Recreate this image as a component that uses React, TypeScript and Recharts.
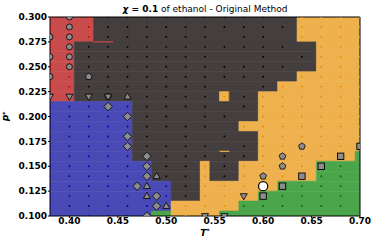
import React from 'react';
import { ScatterChart, Scatter, XAxis, YAxis, ReferenceArea } from 'recharts';

const T_MIN = 0.38;
const T_MAX = 0.7;
const P_MIN = 0.1;
const P_MAX = 0.3;

const xTicks = [0.4, 0.45, 0.5, 0.55, 0.6, 0.65, 0.7];
const yTicks = [0.1, 0.125, 0.15, 0.175, 0.2, 0.225, 0.25, 0.275, 0.3];

// phase of each 0.01 x 0.01 cell, as runs [phase, first T*, last T*] for each P* row
// R = two-phase red, D = dark, B = blue, O = orange, G = green
type Run = [string, number, number];
const phaseRows: { p: number; runs: Run[] }[] = [
  { p: 0.3, runs: [['R', 0.38, 0.42], ['D', 0.43, 0.63], ['O', 0.64, 0.7]] },
  { p: 0.29, runs: [['R', 0.38, 0.42], ['D', 0.43, 0.63], ['O', 0.64, 0.7]] },
  { p: 0.28, runs: [['R', 0.38, 0.42], ['D', 0.43, 0.63], ['O', 0.64, 0.7]] },
  { p: 0.27, runs: [['R', 0.38, 0.4], ['D', 0.41, 0.65], ['O', 0.66, 0.7]] },
  { p: 0.26, runs: [['R', 0.38, 0.4], ['D', 0.41, 0.65], ['O', 0.66, 0.7]] },
  { p: 0.25, runs: [['R', 0.38, 0.4], ['D', 0.41, 0.65], ['O', 0.66, 0.7]] },
  { p: 0.24, runs: [['R', 0.38, 0.4], ['D', 0.41, 0.63], ['O', 0.64, 0.7]] },
  { p: 0.23, runs: [['R', 0.38, 0.4], ['D', 0.41, 0.61], ['O', 0.62, 0.7]] },
  { p: 0.22, runs: [['R', 0.38, 0.4], ['D', 0.41, 0.55], ['O', 0.56, 0.56], ['D', 0.57, 0.59], ['O', 0.6, 0.7]] },
  { p: 0.21, runs: [['B', 0.38, 0.46], ['D', 0.47, 0.59], ['O', 0.6, 0.7]] },
  { p: 0.2, runs: [['B', 0.38, 0.46], ['D', 0.47, 0.59], ['O', 0.6, 0.7]] },
  { p: 0.19, runs: [['B', 0.38, 0.46], ['D', 0.47, 0.57], ['O', 0.58, 0.7]] },
  { p: 0.18, runs: [['B', 0.38, 0.46], ['D', 0.47, 0.59], ['O', 0.6, 0.7]] },
  { p: 0.17, runs: [['B', 0.38, 0.46], ['D', 0.47, 0.59], ['O', 0.6, 0.7]] },
  { p: 0.16, runs: [['B', 0.38, 0.46], ['D', 0.47, 0.59], ['O', 0.6, 0.69], ['G', 0.7, 0.7]] },
  { p: 0.15, runs: [['B', 0.38, 0.48], ['D', 0.49, 0.53], ['O', 0.54, 0.54], ['D', 0.55, 0.57], ['O', 0.58, 0.65], ['G', 0.66, 0.7]] },
  { p: 0.14, runs: [['B', 0.38, 0.48], ['D', 0.49, 0.53], ['O', 0.54, 0.54], ['D', 0.55, 0.57], ['O', 0.58, 0.65], ['G', 0.66, 0.7]] },
  { p: 0.13, runs: [['B', 0.38, 0.5], ['D', 0.51, 0.53], ['O', 0.54, 0.61], ['G', 0.62, 0.7]] },
  { p: 0.12, runs: [['B', 0.38, 0.5], ['D', 0.51, 0.53], ['O', 0.54, 0.59], ['G', 0.6, 0.7]] },
  { p: 0.11, runs: [['B', 0.38, 0.5], ['O', 0.51, 0.57], ['G', 0.58, 0.7]] },
  { p: 0.1, runs: [['B', 0.38, 0.48], ['G', 0.49, 0.5], ['O', 0.51, 0.55], ['G', 0.56, 0.7]] },
];

// thin slivers left by the contouring: [phase, T from, T to, P]
const seams: [string, number, number, number][] = [
  ['R', 0.425, 0.445, 0.275],
  ['O', 0.555, 0.565, 0.165],
];

// simulated state points
const dotT = [0.38, 0.4, 0.42, 0.44, 0.46, 0.48, 0.5, 0.52, 0.54, 0.56, 0.58, 0.6, 0.62, 0.64, 0.66, 0.68, 0.7];
const dotP = [0.3, 0.29, 0.28, 0.27, 0.26, 0.25, 0.24, 0.23, 0.22, 0.21, 0.2, 0.19, 0.18, 0.17, 0.16, 0.15, 0.14, 0.13, 0.12, 0.11, 0.1];
const missingDots: [number, number][] = [
  [0.56, 0.28], [0.56, 0.26], [0.58, 0.26], [0.56, 0.23], [0.58, 0.23], [0.56, 0.21],
  [0.52, 0.2], [0.58, 0.2], [0.56, 0.19], [0.5, 0.18], [0.54, 0.18], [0.58, 0.18],
  [0.56, 0.17], [0.62, 0.28], [0.62, 0.26], [0.64, 0.27], [0.64, 0.25], [0.62, 0.24],
];

// marked state points, [T*, P*]
const circlePts: [number, number][] = [
  [0.4, 0.3], [0.4, 0.29], [0.4, 0.28], [0.4, 0.27], [0.4, 0.26], [0.4, 0.25],
  [0.38, 0.28], [0.38, 0.26], [0.38, 0.24],
];
const triDownPts: [number, number][] = [
  [0.38, 0.22], [0.4, 0.22], [0.42, 0.22], [0.44, 0.22], [0.54, 0.1], [0.56, 0.1], [0.58, 0.12],
];
const triUpPts: [number, number][] = [[0.46, 0.22], [0.49, 0.14], [0.48, 0.13], [0.48, 0.12], [0.5, 0.11]];
const diamondPts: [number, number][] = [
  [0.44, 0.21], [0.46, 0.2], [0.46, 0.18], [0.46, 0.17], [0.48, 0.16], [0.48, 0.15],
  [0.48, 0.14], [0.47, 0.13], [0.49, 0.12], [0.49, 0.11], [0.48, 0.1],
];
const pentagonPts: [number, number][] = [[0.42, 0.24], [0.44, 0.22], [0.6, 0.14], [0.62, 0.15], [0.62, 0.16], [0.64, 0.17]];
const squarePts: [number, number][] = [[0.6, 0.12], [0.62, 0.13], [0.64, 0.14], [0.66, 0.15], [0.68, 0.16], [0.7, 0.17]];
const criticalPts: [number, number][] = [[0.6, 0.13]];

const PHASE_FILL: Record<string, string> = {
  R: '#c94c4c',
  D: '#443e3e',
  B: '#4a4ab6',
  O: '#eeb14d',
  G: '#4ba54b',
};
const PHASE_DOT: Record<string, string> = {
  R: '#d80000',
  D: '#000000',
  B: '#0000b0',
  O: '#e88e00',
  G: '#006a00',
};
const GRAY = '#8c8c8c';
const FONT = '"DejaVu Sans", sans-serif';

const near = (a: number, b: number) => Math.abs(a - b) < 1e-6;
const clampT = (v: number) => Math.min(T_MAX, Math.max(T_MIN, v));
const clampP = (v: number) => Math.min(P_MAX, Math.max(P_MIN, v));
const toPts = (list: [number, number][]) => list.map(([x, y]) => ({ x, y }));

const allMarked = [...circlePts, ...triDownPts, ...triUpPts, ...diamondPts, ...pentagonPts, ...squarePts, ...criticalPts];

function phaseAt(t: number, p: number) {
  const row = phaseRows.find((r) => near(r.p, p));
  const run = row?.runs.find(([, a, b]) => t >= a - 1e-6 && t <= b + 1e-6);
  return run ? run[0] : 'D';
}

const dots = dotP.flatMap((p) =>
  dotT
    .filter((t) => !allMarked.some(([x, y]) => near(x, t) && near(y, p)))
    .filter((t) => !missingDots.some(([x, y]) => near(x, t) && near(y, p)))
    .map((t) => ({ x: t, y: p, phase: phaseAt(t, p) }))
);

const dotShape = (props: any) => (
  <circle cx={props.cx} cy={props.cy} r={0.95} fill={PHASE_DOT[props.payload.phase]} />
);
const circleShape = (props: any) => (
  <circle cx={props.cx} cy={props.cy} r={3} fill={GRAY} stroke="#000" strokeWidth={0.8} />
);
const criticalShape = (props: any) => (
  <circle cx={props.cx} cy={props.cy} r={4.6} fill="#fff" stroke="#000" strokeWidth={1.2} />
);
const poly = (pts: number[][], cx: number, cy: number) =>
  pts.map(([dx, dy]) => `${cx + dx},${cy + dy}`).join(' ');
const triUpShape = (props: any) => (
  <polygon points={poly([[0, -3.8], [3.5, 2.4], [-3.5, 2.4]], props.cx, props.cy)} fill={GRAY} stroke="#000" strokeWidth={0.8} />
);
const triDownShape = (props: any) => (
  <polygon points={poly([[0, 3.8], [3.5, -2.4], [-3.5, -2.4]], props.cx, props.cy)} fill={GRAY} stroke="#000" strokeWidth={0.8} />
);
const diamondShape = (props: any) => (
  <polygon points={poly([[0, -4.2], [4.2, 0], [0, 4.2], [-4.2, 0]], props.cx, props.cy)} fill={GRAY} stroke="#000" strokeWidth={0.8} />
);
const pentagonShape = (props: any) => {
  const pts = [0, 1, 2, 3, 4].map((k) => {
    const a = -Math.PI / 2 + (k * 2 * Math.PI) / 5;
    return [3.5 * Math.cos(a), 3.5 * Math.sin(a)];
  });
  return <polygon points={poly(pts, props.cx, props.cy)} fill={GRAY} stroke="#000" strokeWidth={0.8} />;
};
const squareShape = (props: any) => (
  <rect x={props.cx - 3.2} y={props.cy - 3.2} width={6.4} height={6.4} fill={GRAY} stroke="#000" strokeWidth={0.9} />
);

const tickStyle = { fontSize: 9, fontWeight: 'bold', fill: '#000', fontFamily: FONT };

export default function App() {
  return (
    <div style={{ position: 'absolute', left: 0, top: 0, width: 374, height: 249, fontFamily: FONT }}>
      <div
        style={{
          position: 'absolute',
          left: 50,
          width: 310,
          top: 5,
          textAlign: 'center',
          fontSize: 9,
          lineHeight: 1,
          whiteSpace: 'nowrap',
        }}
      >
        <b>
          <i>χ</i> = 0.1
        </b>{' '}
        of ethanol - Original Method
      </div>
      <ScatterChart width={374} height={249} margin={{ top: 17, right: 14, bottom: 13, left: 8 }}>
        <XAxis
          type="number"
          dataKey="x"
          domain={[T_MIN, T_MAX]}
          ticks={xTicks}
          allowDataOverflow
          tickFormatter={(v: number) => v.toFixed(2)}
          tick={tickStyle}
          tickSize={2}
          tickMargin={0}
          height={20}
          axisLine={false}
          tickLine={{ stroke: '#000' }}
        />
        <YAxis
          type="number"
          dataKey="y"
          domain={[P_MIN, P_MAX]}
          ticks={yTicks}
          allowDataOverflow
          tickFormatter={(v: number) => v.toFixed(3)}
          tick={tickStyle}
          tickSize={2}
          tickMargin={1}
          width={42}
          axisLine={false}
          tickLine={{ stroke: '#000' }}
        />
        {phaseRows.flatMap((row) =>
          row.runs.map(([ph, a, b], i) => (
            <ReferenceArea
              key={`${row.p}-${i}`}
              x1={clampT(a - 0.005)}
              x2={clampT(b + 0.005)}
              y1={clampP(row.p - 0.005)}
              y2={clampP(row.p + 0.005)}
              fill={PHASE_FILL[ph]}
              fillOpacity={1}
              stroke={PHASE_FILL[ph]}
              strokeWidth={0.6}
              ifOverflow="hidden"
            />
          ))
        )}
        {seams.map(([ph, a, b, p], i) => (
          <ReferenceArea
            key={`seam-${i}`}
            x1={a}
            x2={b}
            y1={p - 0.0006}
            y2={p + 0.0006}
            fill={PHASE_FILL[ph]}
            fillOpacity={1}
            stroke="none"
            ifOverflow="hidden"
          />
        ))}
        <Scatter data={dots} shape={dotShape} isAnimationActive={false} />
        <Scatter data={toPts(circlePts)} shape={circleShape} isAnimationActive={false} />
        <Scatter data={toPts(pentagonPts)} shape={pentagonShape} isAnimationActive={false} />
        <Scatter data={toPts(triDownPts)} shape={triDownShape} isAnimationActive={false} />
        <Scatter data={toPts(triUpPts)} shape={triUpShape} isAnimationActive={false} />
        <Scatter data={toPts(diamondPts)} shape={diamondShape} isAnimationActive={false} />
        <Scatter data={toPts(squarePts)} shape={squareShape} isAnimationActive={false} />
        <Scatter data={toPts(criticalPts)} shape={criticalShape} isAnimationActive={false} />
        <ReferenceArea
          x1={T_MIN}
          x2={T_MAX}
          y1={P_MIN}
          y2={P_MAX}
          fill="none"
          fillOpacity={0}
          stroke="#000"
          strokeWidth={1}
        />
      </ScatterChart>
      <div
        style={{
          position: 'absolute',
          left: 50,
          width: 310,
          top: 229,
          textAlign: 'center',
          fontSize: 9,
          fontWeight: 'bold',
          fontStyle: 'italic',
          lineHeight: 1,
        }}
      >
        T<span style={{ fontSize: 6, position: 'relative', top: -3 }}>*</span>
      </div>
      <div
        style={{
          position: 'absolute',
          left: -3,
          top: 112,
          width: 20,
          textAlign: 'center',
          transform: 'rotate(-90deg)',
          fontSize: 9,
          fontWeight: 'bold',
          fontStyle: 'italic',
          lineHeight: 1,
        }}
      >
        P<span style={{ fontSize: 6, position: 'relative', top: -3 }}>*</span>
      </div>
    </div>
  );
}
